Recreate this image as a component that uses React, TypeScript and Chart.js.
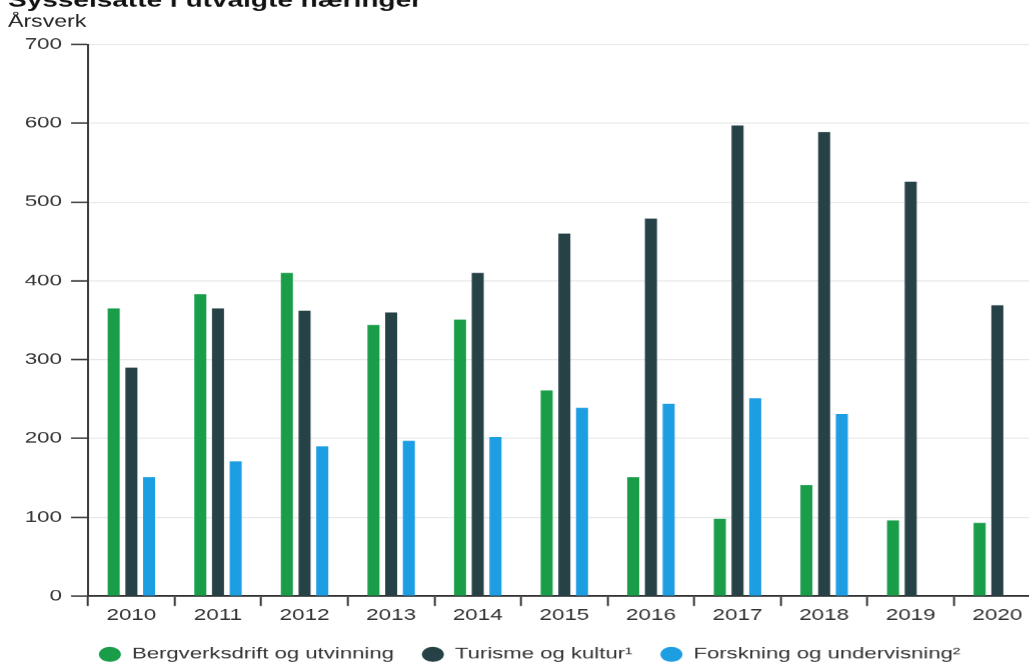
import { useEffect, useRef } from "react";
import { Chart, registerables } from "chart.js";

Chart.register(...registerables);

// Employment (full-time equivalents) by industry, 2010–2020
const years = ["2010", "2011", "2012", "2013", "2014", "2015", "2016", "2017", "2018", "2019", "2020"];
const mining = [365, 383, 410, 344, 351, 261, 151, 98, 141, 96, 93];
const tourism = [290, 365, 362, 360, 410, 460, 479, 597, 589, 526, 369];
const research: (number | null)[] = [151, 171, 190, 197, 202, 239, 244, 251, 231, null, null];

const seriesNames = ["Bergverksdrift og utvinning", "Turisme og kultur¹", "Forskning og undervisning²"];
const seriesColors = ["#1a9d49", "#274247", "#1d9de2"];

const yMin = 0;
const yMax = 700;
const yStep = 100;

const FONT = "'Liberation Sans', Arial, sans-serif";
// the drawing is laid out narrow and widened horizontally on screen
const STRETCH = 1.4;
const W = 746;
const H = 686;
const SHIFT = 14;
const LEGEND_NUDGE = 3.8;

// moves the centred legend row a little to the right
const legendNudge = {
  id: "legendNudge",
  afterLayout(chart: any) {
    if (chart.legend) {
      chart.legend.left += LEGEND_NUDGE;
      chart.legend.right += LEGEND_NUDGE;
    }
  },
};

export default function App() {
  const ref = useRef<HTMLCanvasElement>(null);

  useEffect(() => {
    const canvas = ref.current;
    if (!canvas) return;
    const barOpts = { barPercentage: 0.68, categoryPercentage: 0.613, borderWidth: 0 };
    const chart = new Chart(canvas, {
      type: "bar",
      data: {
        labels: years,
        datasets: [
          { label: seriesNames[0], data: mining, backgroundColor: seriesColors[0], ...barOpts },
          { label: seriesNames[1], data: tourism, backgroundColor: seriesColors[1], ...barOpts },
          { label: seriesNames[2], data: research, backgroundColor: seriesColors[2], ...barOpts },
        ],
      },
      plugins: [legendNudge],
      options: {
        animation: false,
        responsive: false,
        devicePixelRatio: STRETCH,
        layout: { padding: { left: 5.7, right: 3, top: 0, bottom: 0 } },
        plugins: {
          title: {
            display: true,
            text: "Sysselsatte i utvalgte næringer",
            align: "start",
            color: "#111",
            font: { family: FONT, size: 20, weight: "bold", lineHeight: 1.2 },
            padding: { top: 3.5, bottom: 0 },
          },
          subtitle: {
            display: true,
            text: "Årsverk",
            align: "start",
            color: "#222",
            font: { family: FONT, size: 16.5, lineHeight: 1.2 },
            padding: { top: -1.5, bottom: 12.6 },
          },
          legend: {
            position: "bottom",
            labels: {
              usePointStyle: true,
              pointStyle: "circle",
              pointStyleWidth: 15.7,
              boxHeight: 10.6,
              padding: 20,
              color: "#333",
              font: { family: FONT, size: 15.8 },
            },
          },
          tooltip: { enabled: false },
        },
        scales: {
          x: {
            grid: { display: true, drawOnChartArea: false, tickLength: 10, tickColor: "#333", tickWidth: 1.4 },
            border: { color: "#333", width: 2 },
            ticks: { color: "#333", padding: 0, font: { family: FONT, size: 16 } },
            afterFit: (s: any) => {
              s.height = 30.4;
            },
          },
          y: {
            min: yMin,
            max: yMax,
            ticks: { stepSize: yStep, padding: 6.4, color: "#333", font: { family: FONT, size: 16 } },
            grid: { color: "#e6e6e6", lineWidth: 1, tickLength: 12.2, tickColor: "#333", tickWidth: 1.5 },
            border: { color: "#333", width: 1.4 },
            afterFit: (s: any) => {
              s.width = 57.2;
            },
          },
        },
      },
    });
    return () => chart.destroy();
  }, []);

  return (
    <div
      style={{
        position: "fixed",
        left: 0,
        top: 0,
        width: 1029,
        height: 664,
        overflow: "hidden",
        background: "#fff",
      }}
    >
      <canvas
        ref={ref}
        width={W}
        height={H}
        style={{
          position: "absolute",
          left: 0,
          top: -SHIFT,
          transform: `scaleX(${STRETCH})`,
          transformOrigin: "0 0",
        }}
      />
    </div>
  );
}
